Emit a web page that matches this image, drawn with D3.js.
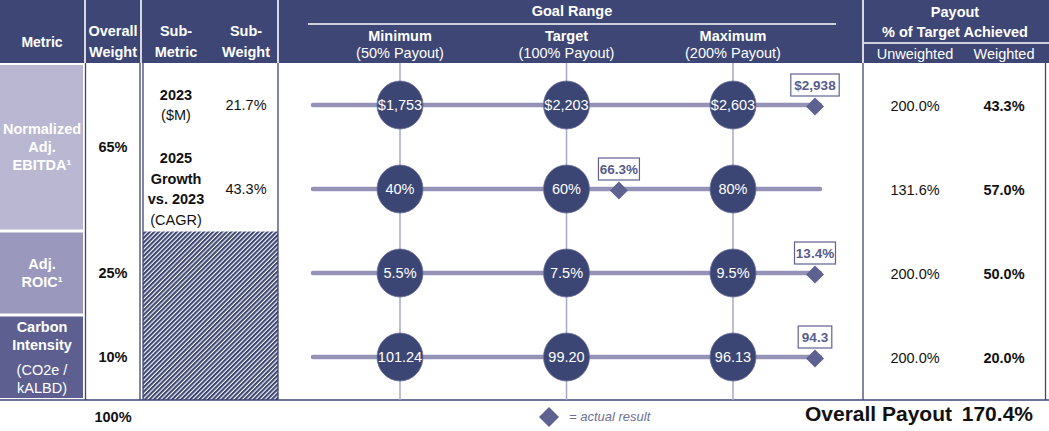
<!DOCTYPE html>
<html>
<head>
<meta charset="utf-8">
<script src="https://cdn.jsdelivr.net/npm/d3@7"></script>
<style>
    body { margin: 0; background: #fff; }
    svg { display: block; font-family: "Liberation Sans", Arial, sans-serif; }
</style>
</head>
<body>
<svg id="chart"></svg>
<script>

/*
*   Data
*/

const rowKeys = ['ebitda2023', 'ebitdaGrowth', 'roic', 'carbon']
const goalLevels = ['Minimum', 'Target', 'Maximum']
const goalPayouts = ['(50% Payout)', '(100% Payout)', '(200% Payout)']

const goalMin = [1753, 40, 5.5, 101.24]
const goalTarget = [2203, 60, 7.5, 99.20]
const goalMax = [2603, 80, 9.5, 96.13]
const actualResult = [2938, 66.3, 13.4, 94.3]

const payoutUnweighted = [200.0, 131.6, 200.0, 200.0]
const payoutWeighted = [43.3, 57.0, 50.0, 20.0]

const metricNames = [['Normalized', 'Adj.', 'EBITDA¹'], ['Adj.', 'ROIC¹'], ['Carbon', 'Intensity']]
const metricNotes = [[], [], ['(CO2e /', 'kALBD)']]
const metricRows = [[0, 1], [2, 2], [3, 3]]
const overallWeights = [65, 25, 10]

const subMetricBold = [['2023'], ['2025', 'Growth', 'vs. 2023']]
const subMetricNote = ['($M)', '(CAGR)']
const subWeights = [21.7, 43.3]

const overallPayout = 170.4


/*
*   Constants
*/

const WIDTH = 1049
const HEIGHT = 431
const HEADER_H = 63
const BODY_BOTTOM = 400
const CAP_X = 815

const COLORS = {
    navy: '#3d4674',
    circle: '#3c4675',
    track: '#9492b6',
    grid: '#a8a8c6',
    diamond: '#5f6291',
    label: '#585c8a',
    metric: ['#b9b7d1', '#9a98bd', '#5c5f8f'],
    text: '#111',
}

const fmt = [
    d => '$' + d3.format(',')(d),
    d => d + '%',
    d => d3.format('.1f')(d) + '%',
    d => d3.format('.2f')(d),
]
const fmtActual = [
    d => '$' + d3.format(',')(d),
    d => d3.format('.1f')(d) + '%',
    d => d3.format('.1f')(d) + '%',
    d => d3.format('.1f')(d),
]

// square diamond (rotated square), size = half diagonal squared * 2
const squareDiamond = {
    draw(ctx, size) {
        const r = Math.sqrt(size / 2)
        ctx.moveTo(0, -r)
        ctx.lineTo(r, 0)
        ctx.lineTo(0, r)
        ctx.lineTo(-r, 0)
        ctx.closePath()
    }
}
const diamondPath = d3.symbol(squareDiamond, 2 * 9 * 9)()


/*
*   Scales
*/

const xLevel = d3.scalePoint().domain(goalLevels).range([400, 733])
const yRow = d3.scalePoint().domain(rowKeys).range([105, 357])
const rowScale = i => d3.scaleLinear()
    .domain([goalMin[i], goalTarget[i], goalMax[i]])
    .range(goalLevels.map(xLevel))
const actualX = i => Math.min(rowScale(i)(actualResult[i]), CAP_X)
const rowMid = (a, b) => (yRow(rowKeys[a]) + yRow(rowKeys[b])) / 2

const svg = d3.select('#chart')
    .attr('width', WIDTH)
    .attr('height', HEIGHT)

const addText = (g, x, y, txt, opts = {}) => g.append('text')
    .attr('x', x).attr('y', y).attr('dy', '0.35em')
    .attr('text-anchor', opts.anchor || 'middle')
    .attr('font-size', opts.size || 14.5)
    .attr('font-weight', opts.bold ? 'bold' : null)
    .attr('font-style', opts.italic ? 'italic' : null)
    .attr('fill', opts.fill || COLORS.text)
    .text(txt)


/*
*   Hatch pattern
*/

const defs = svg.append('defs')
const pat = defs.append('pattern')
    .attr('id', 'hatch')
    .attr('patternUnits', 'userSpaceOnUse')
    .attr('width', 3.2).attr('height', 3.2)
    .attr('patternTransform', 'rotate(45)')
pat.append('rect').attr('width', 3.2).attr('height', 3.2).attr('fill', '#fff')
pat.append('rect').attr('width', 2.1).attr('height', 3.2).attr('fill', COLORS.navy)


/*
*   Header
*/

const header = svg.append('g')
header.append('rect').attr('width', WIDTH).attr('height', HEADER_H).attr('fill', COLORS.navy)
;[85, 141, 278, 863].forEach(x => header.append('line')
    .attr('x1', x).attr('x2', x).attr('y1', 0).attr('y2', HEADER_H)
    .attr('stroke', '#fff').attr('stroke-width', 1.6))

const hw = { fill: '#fff', bold: true }
addText(header, 42, 42, 'Metric', { ...hw, size: 14 })
addText(header, 113, 31, 'Overall', hw)
addText(header, 113, 52, 'Weight', hw)
addText(header, 176, 31, 'Sub-', hw)
addText(header, 176, 52, 'Metric', hw)
addText(header, 246, 31, 'Sub-', hw)
addText(header, 246, 52, 'Weight', hw)

addText(header, 572, 11, 'Goal Range', hw)
header.append('line')
    .attr('x1', 308).attr('x2', 836).attr('y1', 24).attr('y2', 24)
    .attr('stroke', '#fff').attr('stroke-width', 1.5)
goalLevels.forEach((lvl, i) => {
    addText(header, xLevel(lvl), 36, lvl, hw)
    addText(header, xLevel(lvl), 53, goalPayouts[i], { fill: '#fff' })
})

addText(header, 955, 12, 'Payout', hw)
addText(header, 955, 32, '% of Target Achieved', hw)
header.append('line')
    .attr('x1', 864).attr('x2', WIDTH).attr('y1', 43).attr('y2', 43)
    .attr('stroke', '#fff').attr('stroke-width', 1.5)
addText(header, 915, 54, 'Unweighted', { fill: '#fff' })
addText(header, 1004, 54, 'Weighted', { fill: '#fff' })


/*
*   Left columns
*/

const left = svg.append('g')
metricNames.forEach((names, m) => {
    const [a, b] = metricRows[m]
    const top = a === 0 ? HEADER_H + 2 : rowMid(a - 1, a) + 1.5
    const bottom = b === rowKeys.length - 1 ? BODY_BOTTOM - 2 : rowMid(b, b + 1) - 1.5
    left.append('rect')
        .attr('x', 0).attr('y', top).attr('width', 83).attr('height', bottom - top)
        .attr('fill', COLORS.metric[m])

    const lines = names.map(t => ({ t, bold: true })).concat(metricNotes[m].map(t => ({ t, bold: false })))
    const cy = (yRow(rowKeys[a]) + yRow(rowKeys[b])) / 2
    const gaps = lines.map((l, i) => i === 0 ? 0 : (l.bold !== lines[i - 1].bold ? 25 : 18))
    const total = d3.sum(gaps)
    let y = cy - total / 2
    lines.forEach((l, i) => {
        y += gaps[i]
        addText(left, 42, y, l.t, { fill: '#fff', bold: l.bold })
    })

    addText(left, 113, cy, overallWeights[m] + '%', { bold: true })
})

// sub-metric column
subMetricBold.forEach((lines, i) => {
    const cy = yRow(rowKeys[i])
    const all = lines.map(t => ({ t, bold: true })).concat([{ t: subMetricNote[i], bold: false }])
    const step = i === 0 ? 20 : 20.5
    all.forEach((l, j) => {
        addText(left, 176, cy - (all.length - 1) * step / 2 + j * step, l.t, { bold: l.bold })
    })
    addText(left, 246, cy, d3.format('.1f')(subWeights[i]) + '%')
})
left.append('rect')
    .attr('x', 143).attr('y', rowMid(1, 2) + 0.5)
    .attr('width', 135).attr('height', BODY_BOTTOM - rowMid(1, 2) - 0.5)
    .attr('fill', 'url(#hatch)')

;[85.5, 140, 143, 278, 863, 1045.5].forEach(x => left.append('line')
    .attr('x1', x).attr('x2', x).attr('y1', HEADER_H).attr('y2', BODY_BOTTOM)
    .attr('stroke', COLORS.navy).attr('stroke-width', 1.3))
left.append('line')
    .attr('x1', 0).attr('x2', WIDTH).attr('y1', BODY_BOTTOM).attr('y2', BODY_BOTTOM)
    .attr('stroke', COLORS.navy).attr('stroke-width', 1.5)


/*
*   Goal range grid
*/

const grid = svg.append('g')
goalLevels.forEach(lvl => grid.append('line')
    .attr('x1', xLevel(lvl)).attr('x2', xLevel(lvl))
    .attr('y1', HEADER_H).attr('y2', BODY_BOTTOM)
    .attr('stroke', COLORS.grid).attr('stroke-width', 1.5))

const rows = grid.selectAll('g.row')
    .data(rowKeys)
    .join('g')
    .attr('class', 'row')
    .attr('transform', d => `translate(0,${yRow(d)})`)

rows.append('line')
    .attr('x1', xLevel(goalLevels[0]) - 87).attr('x2', CAP_X + 5)
    .attr('stroke', COLORS.track).attr('stroke-width', 4.5)
    .attr('stroke-linecap', 'round')

rows.each(function (key, i) {
    const g = d3.select(this)
    const vals = [goalMin[i], goalTarget[i], goalMax[i]]
    const s = rowScale(i)
    vals.forEach(v => {
        g.append('ellipse')
            .attr('cx', s(v)).attr('cy', 0).attr('rx', 23).attr('ry', 24)
            .attr('fill', COLORS.circle)
            .attr('stroke', '#6a6e98').attr('stroke-width', 0.8)
        addText(g, s(v), 0, fmt[i](v), { fill: '#fff' })
    })

    const ax = actualX(i)
    g.append('path')
        .attr('d', diamondPath)
        .attr('transform', `translate(${ax},1.5)`)
        .attr('fill', COLORS.diamond)
    const label = fmtActual[i](actualResult[i])
    const bw = label.length * 7.4 + 4
    g.append('rect')
        .attr('x', ax - bw / 2).attr('y', -31).attr('width', bw).attr('height', 22)
        .attr('fill', '#fff').attr('stroke', COLORS.diamond).attr('stroke-width', 1.2)
    addText(g, ax, -20, label, { bold: true, fill: COLORS.label, size: 13.5 })
})


/*
*   Payout columns
*/

const pay = svg.append('g')
rowKeys.forEach((k, i) => {
    addText(pay, 915, yRow(k) + 1, d3.format('.1f')(payoutUnweighted[i]) + '%')
    addText(pay, 1004, yRow(k) + 1, d3.format('.1f')(payoutWeighted[i]) + '%', { bold: true })
})


/*
*   Footer
*/

const foot = svg.append('g')
addText(foot, 113, 417, d3.sum(overallWeights) + '%', { bold: true })
foot.append('path')
    .attr('d', d3.symbol(squareDiamond, 2 * 10 * 10)())
    .attr('transform', 'translate(549,417)')
    .attr('fill', COLORS.diamond)
addText(foot, 569, 416, '= actual result', { anchor: 'start', italic: true, fill: '#6d6f99', size: 13 })
addText(foot, 952, 414, 'Overall Payout', { anchor: 'end', bold: true, size: 21 })
addText(foot, 1033, 414, d3.format('.1f')(overallPayout) + '%', { anchor: 'end', bold: true, size: 21 })

</script>
</body>
</html>
